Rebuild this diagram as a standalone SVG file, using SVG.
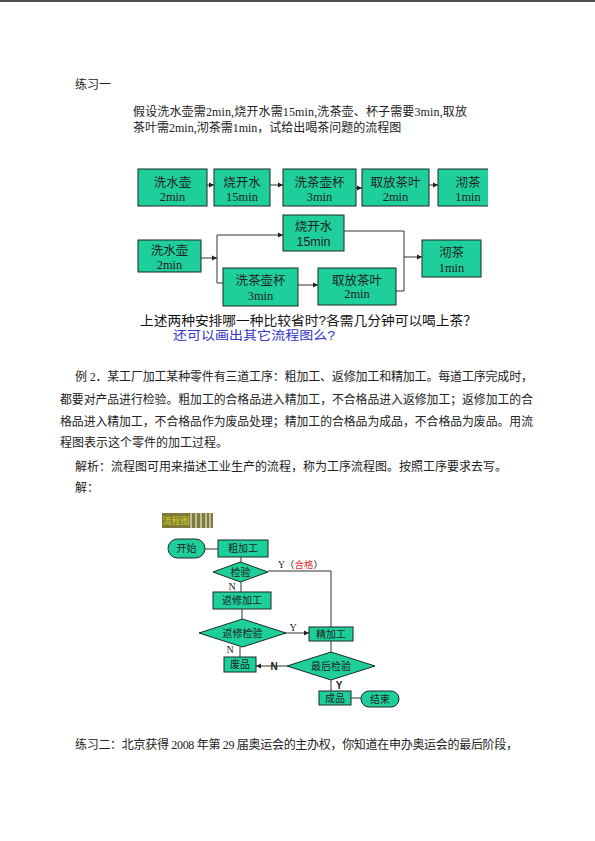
<svg xmlns="http://www.w3.org/2000/svg" width="595" height="841" viewBox="0 0 595 841">
<style>
.t{font-family:"Liberation Serif","Noto Sans CJK SC",serif;fill:#222}
.b{fill:#1ecf9c;stroke:#1a2a24;stroke-width:1}
.c{fill:none;stroke:#333;stroke-width:1}
.bt{font-family:"Liberation Serif","Noto Sans CJK SC",serif;font-size:12.5px;fill:#222;text-anchor:middle}
.st{font-family:"Liberation Serif","Noto Sans CJK SC",serif;font-size:10px;fill:#222;text-anchor:middle}
</style>
<defs>
<marker id="a" markerWidth="6" markerHeight="6" refX="5" refY="3" orient="auto" markerUnits="userSpaceOnUse"><path d="M0,0.5 L5,3 L0,5.5Z" fill="#222"/></marker>
</defs>
<rect width="595" height="841" fill="#fff"/>
<line x1="0" y1="1" x2="595" y2="1" stroke="#111" stroke-width="1.5"/>
<text class="t" x="75" y="89" font-size="12">练习一</text>
<text class="t" x="133" y="116" font-size="12" textLength="334" lengthAdjust="spacing">假设洗水壶需2min,烧开水需15min,洗茶壶、杯子需要3min,取放</text>
<text class="t" x="133" y="132" font-size="12">茶叶需2min,沏茶需1min，试给出喝茶问题的流程图</text>

<g id="connectors1">
<line class="c" x1="207" y1="185" x2="214" y2="185" marker-end="url(#a)"/>
<line class="c" x1="270" y1="185" x2="283" y2="185" marker-end="url(#a)"/>
<line class="c" x1="356" y1="188" x2="362" y2="188" marker-end="url(#a)"/>
<line class="c" x1="429" y1="185" x2="438" y2="185" marker-end="url(#a)"/>
<line class="c" x1="201" y1="258" x2="217" y2="258" marker-end="url(#a)"/>
<polyline class="c" points="217,283 217,235 283,235" marker-end="url(#a)"/>
<line class="c" x1="217" y1="283" x2="223" y2="283"/>
<line class="c" x1="298" y1="285" x2="318" y2="285" marker-end="url(#a)"/>
<polyline class="c" points="344,231 404,231 404,291 396,291"/>
<line class="c" x1="404" y1="257" x2="422" y2="257" marker-end="url(#a)"/>
</g>
<g id="n1"><rect class="b" x="138" y="169" width="69" height="37"/><text class="bt" x="172.5" y="187">洗水壶</text><text class="bt" x="172.5" y="201">2min</text></g>
<g id="n2"><rect class="b" x="214" y="169" width="56" height="37"/><text class="bt" x="242" y="187">烧开水</text><text class="bt" x="242" y="201">15min</text></g>
<g id="n3"><rect class="b" x="283" y="169" width="73" height="37"/><text class="bt" x="319.5" y="187">洗茶壶杯</text><text class="bt" x="319.5" y="201">3min</text></g>
<g id="n4"><rect class="b" x="362" y="169" width="67" height="37"/><text class="bt" x="395.5" y="187">取放茶叶</text><text class="bt" x="395.5" y="201">2min</text></g>
<g id="n5"><rect x="438" y="169" width="50" height="37" fill="#1ecf9c"/><path d="M488,169 H438 V206 H488" fill="none" stroke="#1a2a24"/><text class="bt" x="468" y="187">沏茶</text><text class="bt" x="468" y="201">1min</text></g>

<g id="m1"><rect class="b" x="138" y="240" width="63" height="32"/><text class="bt" x="169.5" y="255">洗水壶</text><text class="bt" x="169.5" y="269">2min</text></g>
<g id="m2"><rect class="b" x="283" y="215" width="61" height="36"/><text class="bt" x="313.5" y="231">烧开水</text><text x="313.5" y="246" font-family="Liberation Sans,sans-serif" font-size="12.5" text-anchor="middle" fill="#222">15min</text></g>
<g id="m3"><rect class="b" x="223" y="268" width="75" height="38"/><text class="bt" x="260.5" y="285">洗茶壶杯</text><text class="bt" x="260.5" y="300">3min</text></g>
<g id="m4"><rect class="b" x="318" y="268" width="78" height="37"/><text class="bt" x="357" y="285" font-size="11">取放茶叶</text><text class="bt" x="357" y="298" font-size="10">2min</text></g>
<g id="m5"><rect class="b" x="422" y="240" width="59" height="37"/><text class="bt" x="451.5" y="257">沏茶</text><text class="bt" x="451.5" y="272">1min</text></g>

<text x="140" y="325" font-family="Liberation Sans,Noto Sans CJK SC,sans-serif" font-size="13" fill="#111" textLength="337" lengthAdjust="spacingAndGlyphs">上述两种安排哪一种比较省时?各需几分钟可以喝上茶？</text>
<text x="173" y="339.5" font-family="Liberation Sans,Noto Sans CJK SC,sans-serif" font-size="12.5" fill="#3333cc" textLength="162" lengthAdjust="spacingAndGlyphs">还可以画出其它流程图么?</text>

<text class="t" x="75" y="381" font-size="12" textLength="458" lengthAdjust="spacing">例 2．某工厂加工某种零件有三道工序：粗加工、返修加工和精加工。每道工序完成时，</text>
<text class="t" x="60" y="404" font-size="12" textLength="473" lengthAdjust="spacingAndGlyphs">都要对产品进行检验。粗加工的合格品进入精加工，不合格品进入返修加工；返修加工的合</text>
<text class="t" x="60" y="426" font-size="12" textLength="473" lengthAdjust="spacingAndGlyphs">格品进入精加工，不合格品作为废品处理；精加工的合格品为成品，不合格品为废品。用流</text>
<text class="t" x="60" y="447" font-size="12">程图表示这个零件的加工过程。</text>
<text class="t" x="75" y="471" font-size="12">解析：流程图可用来描述工业生产的流程，称为工序流程图。按照工序要求去写。</text>
<text class="t" x="75" y="492" font-size="12">解：</text>

<g id="badge">
<rect x="162" y="513" width="51" height="15" fill="#7d7a3a"/>
<g stroke="#fff" stroke-width="1"><line x1="191" y1="513" x2="191" y2="528"/><line x1="196" y1="513" x2="196" y2="528"/><line x1="201" y1="513" x2="201" y2="528"/><line x1="206" y1="513" x2="206" y2="528"/><line x1="210" y1="513" x2="210" y2="528"/></g>
<text x="176" y="524" font-family="Noto Sans CJK SC,sans-serif" font-size="9" fill="#d8d020" text-anchor="middle">流程图</text>
</g>

<g id="connectors2">
<line class="c" x1="205" y1="549" x2="218" y2="549"/>
<line class="c" x1="241" y1="557" x2="241" y2="562"/>
<line class="c" x1="241" y1="582" x2="241" y2="592"/>
<polyline class="c" points="268,571 331,571 331,627"/>
<line class="c" x1="242" y1="609" x2="242" y2="619"/>
<line class="c" x1="286" y1="633" x2="309" y2="633" marker-end="url(#a)"/>
<line class="c" x1="240" y1="647" x2="240" y2="657"/>
<line class="c" x1="331" y1="641" x2="331" y2="652"/>
<line class="c" x1="287" y1="666" x2="256" y2="666" marker-end="url(#a)"/>
<line class="c" x1="331" y1="680" x2="331" y2="691"/>
<line class="c" x1="351" y1="698" x2="361" y2="698"/>
<text class="st" x="232" y="590" font-size="9">N</text>
<text x="278" y="568" font-family="Liberation Serif,Noto Sans CJK SC,serif" font-size="9.5" fill="#222">Y（<tspan fill="#e03030">合格</tspan>）</text>
<text class="st" x="293" y="631" font-size="9">Y</text>
<text class="st" x="230" y="653" font-size="9">N</text>
<text x="274" y="670" font-family="Liberation Sans,sans-serif" font-size="10" font-weight="bold" fill="#222" text-anchor="middle">N</text>
<text x="339" y="689" font-family="Liberation Sans,sans-serif" font-size="10" font-weight="bold" fill="#222" text-anchor="middle">Y</text>
</g>
<g id="start"><rect class="b" x="168" y="539" width="37" height="19" rx="9.5"/><text class="st" x="186.5" y="552">开始</text></g>
<g id="cu"><rect class="b" x="218" y="540" width="50" height="17"/><text class="st" x="243" y="552">粗加工</text></g>
<g id="jy"><polygon class="b" points="213,572 240.5,562 268,572 240.5,582"/><text class="st" x="240.5" y="576">检验</text></g>
<g id="fx"><rect class="b" x="213" y="592" width="58" height="17"/><text class="st" x="242" y="604">返修加工</text></g>
<g id="fxjy"><polygon class="b" points="199,633 242.5,619 286,633 242.5,647"/><text class="st" x="242.5" y="637">返修检验</text></g>
<g id="fp"><rect class="b" x="224" y="657" width="32" height="15"/><text class="st" x="240" y="668">废品</text></g>
<g id="jj"><rect class="b" x="309" y="627" width="44" height="14"/><text class="st" x="331" y="638">精加工</text></g>
<g id="zh"><polygon class="b" points="287,666 331,652 375,666 331,680"/><text class="st" x="331" y="670">最后检验</text></g>
<g id="cp"><rect class="b" x="319" y="691" width="32" height="14"/><text class="st" x="335" y="702">成品</text></g>
<g id="end"><rect class="b" x="361" y="691" width="38" height="16" rx="8"/><text class="st" x="380" y="703">结束</text></g>

<text class="t" x="75" y="749" font-size="12" textLength="443" lengthAdjust="spacing">练习二：北京获得 2008 年第 29 届奥运会的主办权，你知道在申办奥运会的最后阶段，</text>
</svg>
